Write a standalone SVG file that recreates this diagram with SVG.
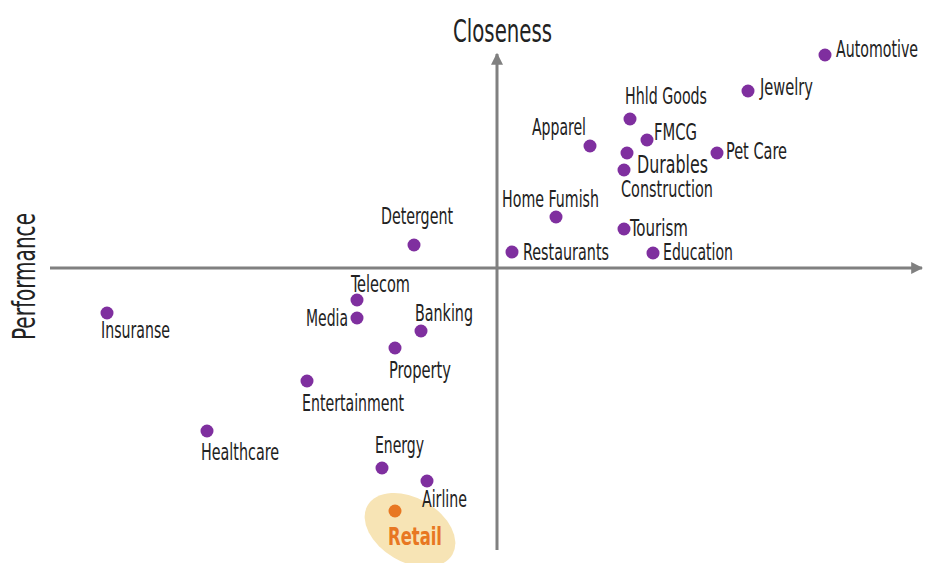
<svg xmlns="http://www.w3.org/2000/svg" width="926" height="563" viewBox="0 0 926 563">
<style>
text{font-family:"DejaVu Sans Condensed","DejaVu Sans","Liberation Sans",sans-serif;fill:#222;font-size:23px;font-weight:300}
.dot{fill:#7F2F9F}
.axis{stroke:#808080;stroke-width:3;fill:none}
.title{font-size:32px}
.retail{fill:#E87722;font-weight:bold;font-size:24px}
</style>
<defs>
<marker id="ah" viewBox="0 0 10 10" refX="9" refY="5" markerWidth="4" markerHeight="4" orient="auto" markerUnits="strokeWidth">
<path d="M0,0 L10,5 L0,10 Z" fill="#808080"/>
</marker>
</defs>
<rect width="926" height="563" fill="#fff"/>
<g id="connectors">
<line class="axis" x1="50" y1="268" x2="922" y2="268" marker-end="url(#ah)"/>
<line class="axis" x1="497" y1="550" x2="497" y2="54" marker-end="url(#ah)"/>
</g>
<text class="title" x="453" y="42" textLength="99" lengthAdjust="spacingAndGlyphs">Closeness</text>
<text class="title" x="0" y="0" textLength="127" lengthAdjust="spacingAndGlyphs" transform="translate(35,340) rotate(-90)">Performance</text>
<g id="retail-highlight"><ellipse cx="410" cy="530" rx="49" ry="32" transform="rotate(30 410 530)" fill="#F7E4B5"/></g>
<g id="automotive"><circle class="dot" cx="825" cy="55" r="6.5"/><text x="836" y="57" textLength="82" lengthAdjust="spacingAndGlyphs">Automotive</text></g>
<g id="jewelry"><circle class="dot" cx="748" cy="91" r="6.5"/><text x="760" y="95" textLength="53" lengthAdjust="spacingAndGlyphs">Jewelry</text></g>
<g id="hhld-goods"><circle class="dot" cx="630" cy="119" r="6.5"/><text x="625" y="104" textLength="82" lengthAdjust="spacingAndGlyphs">Hhld Goods</text></g>
<g id="fmcg"><circle class="dot" cx="647" cy="140" r="6.5"/><text x="654" y="140" textLength="43" lengthAdjust="spacingAndGlyphs">FMCG</text></g>
<g id="apparel"><circle class="dot" cx="590" cy="146" r="6.5"/><text x="532" y="135" textLength="54" lengthAdjust="spacingAndGlyphs">Apparel</text></g>
<g id="durables"><circle class="dot" cx="627" cy="153" r="6.5"/><text x="637" y="173" textLength="71" lengthAdjust="spacingAndGlyphs" style="font-size:25px">Durables</text></g>
<g id="pet-care"><circle class="dot" cx="717" cy="153" r="6.5"/><text x="726" y="159" textLength="61" lengthAdjust="spacingAndGlyphs">Pet Care</text></g>
<g id="construction"><circle class="dot" cx="624" cy="170" r="6.5"/><text x="621" y="197" textLength="92" lengthAdjust="spacingAndGlyphs">Construction</text></g>
<g id="home-fumish"><circle class="dot" cx="556" cy="217" r="6.5"/><text x="502" y="207" textLength="97" lengthAdjust="spacingAndGlyphs">Home Fumish</text></g>
<g id="detergent"><circle class="dot" cx="414" cy="245" r="6.5"/><text x="381" y="224" textLength="72" lengthAdjust="spacingAndGlyphs">Detergent</text></g>
<g id="tourism"><circle class="dot" cx="624" cy="229" r="6.5"/><text x="630" y="236" textLength="58" lengthAdjust="spacingAndGlyphs">Tourism</text></g>
<g id="restaurants"><circle class="dot" cx="512" cy="252" r="6.5"/><text x="523" y="260" textLength="86" lengthAdjust="spacingAndGlyphs">Restaurants</text></g>
<g id="education"><circle class="dot" cx="653" cy="253" r="6.5"/><text x="663" y="260" textLength="70" lengthAdjust="spacingAndGlyphs">Education</text></g>
<g id="telecom"><circle class="dot" cx="357" cy="300" r="6.5"/><text x="351" y="292" textLength="59" lengthAdjust="spacingAndGlyphs">Telecom</text></g>
<g id="media"><circle class="dot" cx="357" cy="318" r="6.5"/><text x="306" y="326" textLength="42" lengthAdjust="spacingAndGlyphs">Media</text></g>
<g id="insuranse"><circle class="dot" cx="107" cy="313" r="6.5"/><text x="101" y="338" textLength="69" lengthAdjust="spacingAndGlyphs">Insuranse</text></g>
<g id="banking"><circle class="dot" cx="421" cy="331" r="6.5"/><text x="415" y="321" textLength="58" lengthAdjust="spacingAndGlyphs">Banking</text></g>
<g id="property"><circle class="dot" cx="395" cy="348" r="6.5"/><text x="389" y="378" textLength="62" lengthAdjust="spacingAndGlyphs">Property</text></g>
<g id="entertainment"><circle class="dot" cx="307" cy="381" r="6.5"/><text x="302" y="411" textLength="102" lengthAdjust="spacingAndGlyphs">Entertainment</text></g>
<g id="healthcare"><circle class="dot" cx="207" cy="431" r="6.5"/><text x="201" y="460" textLength="78" lengthAdjust="spacingAndGlyphs">Healthcare</text></g>
<g id="energy"><circle class="dot" cx="382" cy="468" r="6.5"/><text x="375" y="453" textLength="49" lengthAdjust="spacingAndGlyphs">Energy</text></g>
<g id="airline"><circle class="dot" cx="427" cy="481" r="6.5"/><text x="422" y="507" textLength="45" lengthAdjust="spacingAndGlyphs">Airline</text></g>
<g id="retail"><circle cx="395" cy="511" r="6.5" fill="#E87722"/><text class="retail" x="388" y="545" textLength="54" lengthAdjust="spacingAndGlyphs">Retail</text></g>
</svg>
